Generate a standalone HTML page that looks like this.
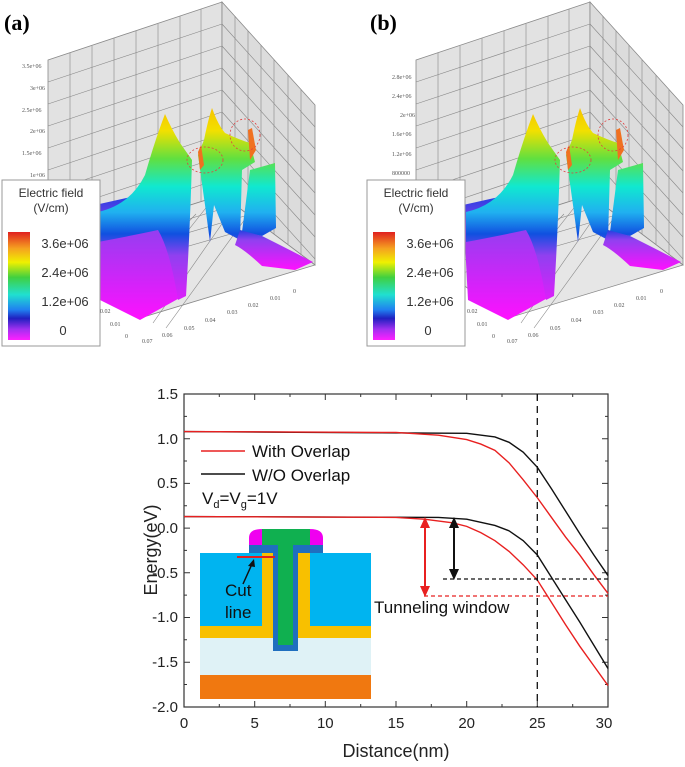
<!DOCTYPE html>
<html><head><meta charset="utf-8"><style>
body{margin:0;background:#fff;width:685px;height:767px;overflow:hidden}
svg{position:absolute;left:0;top:0}
.s{font-family:"Liberation Sans",sans-serif}
.r{font-family:"Liberation Serif",serif}
</style></head><body>
<svg width="685" height="767" viewBox="0 0 685 767">
<defs>
<linearGradient id="sg" gradientUnits="userSpaceOnUse" x1="0" y1="105" x2="0" y2="320">
<stop offset="0" stop-color="#f7c000"/><stop offset="0.12" stop-color="#f2e000"/><stop offset="0.25" stop-color="#60e040"/>
<stop offset="0.38" stop-color="#10e8d0"/><stop offset="0.5" stop-color="#20b0f0"/><stop offset="0.6" stop-color="#1050e0"/>
<stop offset="0.7" stop-color="#9040f0"/><stop offset="1" stop-color="#ff10ff"/></linearGradient>
<linearGradient id="mg" x1="0" y1="0" x2="0" y2="1"><stop offset="0" stop-color="#2040e0"/><stop offset="0.25" stop-color="#9040f0"/><stop offset="1" stop-color="#ff10ff"/></linearGradient>
<linearGradient id="cb" x1="0" y1="0" x2="0" y2="1">
<stop offset="0" stop-color="#e02020"/><stop offset="0.15" stop-color="#f5a020"/><stop offset="0.28" stop-color="#f0f000"/><stop offset="0.42" stop-color="#40d040"/>
<stop offset="0.58" stop-color="#20e0d0"/><stop offset="0.72" stop-color="#2080f0"/><stop offset="0.8" stop-color="#2020c0"/><stop offset="0.9" stop-color="#a030f0"/><stop offset="1" stop-color="#ff20ff"/></linearGradient>
<g id="p3d">
<polygon points="48,60 222,2 222,195 48,250" fill="#e2e2e2" stroke="#888" stroke-width="0.8"/>
<polygon points="222,2 315,105 315,265 222,195" fill="#dcdcdc" stroke="#888" stroke-width="0.8"/>
<polygon points="222,195 315,265 140,318 48,250" fill="#e6e6e6" stroke="#888" stroke-width="0.8"/>
<g stroke="#888" stroke-width="0.6" fill="none">
<path d="M70,53V243M92,46V236M114,38V229M136,31V222M158,24V215M180,16V208M201,9V201"/>
<path d="M48,82L222,24M48,104L222,46M48,126L222,68M48,148L222,90M48,170L222,112M48,192L222,134M48,214L222,156M48,236L222,178"/>
<path d="M235,16V205M248,31V215M261,45V225M274,60V234M288,75V244M301,90V255"/>
<path d="M222,24L315,127M222,46L315,149M222,68L315,171M222,90L315,193M222,112L315,215M222,134L315,237M222,156L315,259"/>
<path d="M209,204L126,309M196,214L113,300M183,224L100,291M235,205L153,323M248,215L166,328"/>
<path d="M60,258L235,205M72,267L248,215M84,276L262,225"/>
</g>
<path d="M95,205 L140,195 L160,228 Q175,260 185,295 L140,320 L100,300Z" fill="url(#mg)"/>
<path d="M98,212 Q130,205 145,175 Q155,140 165,114 Q172,130 180,143 L192,160 Q190,230 186,296 L178,300 Q170,250 158,230 Q130,236 98,242Z" fill="url(#sg)"/>
<path d="M198,155 L204,140 Q208,120 212,108 Q218,125 225,133 Q240,140 250,143 L255,162 L242,170 L240,240 L225,232 L214,205 L210,242 L205,205Z" fill="url(#sg)"/>
<path d="M248,130 L252,128 L256,150 L250,160Z" fill="#f07020"/>
<path d="M198,152 L201,145 L204,165 L200,170Z" fill="#f07020"/>
<path d="M250,170 L275,163 L276,228 L262,236 L242,232Z" fill="url(#sg)"/>
<path d="M240,230 L262,236 Q290,250 313,262 L295,270 L262,266 Q245,250 235,245Z" fill="url(#mg)"/>
<ellipse cx="205" cy="160" rx="18" ry="13" fill="none" stroke="#e04040" stroke-dasharray="2,2" stroke-width="0.8"/>
<ellipse cx="245" cy="135" rx="15" ry="16" fill="none" stroke="#e04040" stroke-dasharray="2,2" stroke-width="0.8"/>
</g>
<g id="leg">
<rect x="2" y="180" width="98" height="166" fill="#fff" stroke="#999"/>
<rect x="8" y="232" width="22" height="108" fill="url(#cb)"/>
</g>
</defs>
<use href="#p3d"/>
<use href="#leg"/>
<g transform="translate(368,0)"><use href="#p3d"/></g>
<g transform="translate(365,0)"><use href="#leg"/></g>
<g font-size="6" fill="#555" class="r">
<text x="22" y="68">3.5e+06</text><text x="30" y="90">3e+06</text><text x="22" y="112">2.5e+06</text><text x="30" y="133">2e+06</text><text x="22" y="155">1.5e+06</text><text x="30" y="177">1e+06</text>
<text x="392" y="79">2.8e+06</text><text x="392" y="98">2.4e+06</text><text x="400" y="117">2e+06</text><text x="392" y="136">1.6e+06</text><text x="392" y="156">1.2e+06</text><text x="392" y="175">800000</text>
<text x="100" y="313">0.02</text><text x="110" y="326">0.01</text><text x="125" y="338">0</text><text x="142" y="343">0.07</text><text x="162" y="337">0.06</text><text x="184" y="330">0.05</text><text x="205" y="322">0.04</text><text x="227" y="314">0.03</text><text x="248" y="307">0.02</text><text x="270" y="300">0.01</text><text x="293" y="293">0</text>
<text x="467" y="313">0.02</text><text x="477" y="326">0.01</text><text x="492" y="338">0</text><text x="507" y="343">0.07</text><text x="528" y="337">0.06</text><text x="550" y="330">0.05</text><text x="571" y="322">0.04</text><text x="593" y="314">0.03</text><text x="614" y="307">0.02</text><text x="636" y="300">0.01</text><text x="660" y="293">0</text>
</g>
<g font-size="12" fill="#333" text-anchor="middle" class="s">
<text x="51" y="197">Electric field</text><text x="51" y="212">(V/cm)</text>
<text x="65" y="248" font-size="13">3.6e+06</text><text x="65" y="277" font-size="13">2.4e+06</text><text x="65" y="306" font-size="13">1.2e+06</text><text x="63" y="335" font-size="13">0</text>
<text x="416" y="197">Electric field</text><text x="416" y="212">(V/cm)</text>
<text x="430" y="248" font-size="13">3.6e+06</text><text x="430" y="277" font-size="13">2.4e+06</text><text x="430" y="306" font-size="13">1.2e+06</text><text x="428" y="335" font-size="13">0</text>
</g>
<text x="4" y="30" class="r" font-weight="bold" font-size="22">(a)</text>
<text x="370" y="30" class="r" font-weight="bold" font-size="22">(b)</text>

<!-- bottom chart -->
<rect x="184" y="394" width="424" height="313" fill="none" stroke="#333" stroke-width="1.2"/>
<g stroke="#333" stroke-width="1">
<path d="M254.7,707v-6M325.3,707v-6M396,707v-6M466.7,707v-6M537.3,707v-6M254.7,394v6M325.3,394v6M396,394v6M466.7,394v6M537.3,394v6"/>
<path d="M219.3,707v-3M290,707v-3M360.7,707v-3M431.3,707v-3M502,707v-3M572.7,707v-3M219.3,394v3M290,394v3M360.7,394v3M431.3,394v3M502,394v3M572.7,394v3"/>
<path d="M184,438.7h6M184,483.4h6M184,528.1h6M184,572.8h6M184,617.5h6M184,662.2h6M608,438.7h-6M608,483.4h-6M608,528.1h-6M608,572.8h-6M608,617.5h-6M608,662.2h-6"/>
<path d="M184,416.4h3M184,461h3M184,505.7h3M184,550.4h3M184,595.1h3M184,639.8h3M184,684.5h3M608,416.4h-3M608,461h-3M608,505.7h-3M608,550.4h-3M608,595.1h-3M608,639.8h-3M608,684.5h-3"/>
</g>
<g font-size="15" fill="#222" text-anchor="end" class="s">
<text x="178" y="399">1.5</text><text x="178" y="444">1.0</text><text x="178" y="488">0.5</text><text x="178" y="533">0.0</text><text x="178" y="578">-0.5</text><text x="178" y="622">-1.0</text><text x="178" y="667">-1.5</text><text x="178" y="712">-2.0</text>
</g>
<g font-size="15" fill="#222" text-anchor="middle" class="s">
<text x="184" y="728">0</text><text x="254.7" y="728">5</text><text x="325.3" y="728">10</text><text x="396" y="728">15</text><text x="466.7" y="728">20</text><text x="537.3" y="728">25</text><text x="604" y="728">30</text>
<text x="396" y="757" font-size="18">Distance(nm)</text>
<text transform="translate(157,550) rotate(-90)" font-size="18">Energy(eV)</text>
</g>
<!-- inset -->
<rect x="200" y="553" width="171" height="73" fill="#00b4f0"/>
<rect x="200" y="626" width="171" height="12" fill="#f8c000"/>
<rect x="200" y="638" width="171" height="37" fill="#dff2f6"/>
<rect x="200" y="675" width="171" height="24" fill="#f07810"/>
<rect x="262" y="553" width="48" height="73" fill="#f8c000"/>
<path d="M249,548 V538 Q249,529 262,529 H310 Q323,529 323,538 V548Z" fill="#f000f0"/>
<rect x="249" y="545" width="74" height="8" fill="#1f6fbf"/>
<rect x="262" y="529" width="48" height="16" fill="#10b050"/>
<rect x="273" y="545" width="25" height="106" fill="#1f6fbf"/>
<rect x="278" y="529" width="15" height="116" fill="#10b050"/>
<line x1="237" y1="557" x2="275" y2="557" stroke="#e02020" stroke-width="2"/>
<line x1="243" y1="584" x2="252" y2="564" stroke="#111" stroke-width="1.5"/>
<polygon points="254,559 248,566 255,567" fill="#111"/>
<g class="s" font-size="17" fill="#111">
<text x="225" y="596">Cut</text>
<text x="225" y="618">line</text>
</g>
<!-- curves -->
<g transform="translate(184,394) scale(14.1333,-89.43) translate(0,-1.5)" fill="none">
<polyline vector-effect="non-scaling-stroke" stroke="#111" stroke-width="1.4" points="0,1.08 20,1.06 22,1.02 23,0.96 24,0.85 25,0.68 26,0.44 27,0.19 28,-0.06 29,-0.30 30,-0.53"/>
<polyline vector-effect="non-scaling-stroke" stroke="#e82020" stroke-width="1.4" points="0,1.08 15,1.07 18,1.04 20,0.99 21,0.94 22,0.87 23,0.73 24,0.54 25,0.34 26,0.12 27,-0.10 28,-0.30 29,-0.52 30,-0.73"/>
<polyline vector-effect="non-scaling-stroke" stroke="#111" stroke-width="1.4" points="0,0.13 18,0.12 20,0.10 22,0.03 23,-0.03 24,-0.14 25,-0.30 26,-0.55 27,-0.80 28,-1.05 29,-1.31 30,-1.57"/>
<polyline vector-effect="non-scaling-stroke" stroke="#e82020" stroke-width="1.4" points="0,0.13 15,0.12 17,0.10 19,0.06 20,0.02 21,-0.05 22,-0.14 23,-0.26 24,-0.41 25,-0.58 26,-0.83 27,-1.08 28,-1.32 29,-1.54 30,-1.76"/>
</g>
<line x1="537.3" y1="394" x2="537.3" y2="707" stroke="#111" stroke-width="1.3" stroke-dasharray="7,5"/>
<line x1="424" y1="596" x2="608" y2="596" stroke="#e82020" stroke-width="1.2" stroke-dasharray="4,3"/>
<line x1="443" y1="579" x2="608" y2="579" stroke="#111" stroke-width="1.2" stroke-dasharray="4,3"/>
<line x1="425" y1="526" x2="425" y2="590" stroke="#e82020" stroke-width="2"/>
<polygon points="425,517 420,528 430,528" fill="#e82020"/><polygon points="425,597 420,586 430,586" fill="#e82020"/>
<line x1="454" y1="526" x2="454" y2="573" stroke="#111" stroke-width="2"/>
<polygon points="454,517 449,528 459,528" fill="#111"/><polygon points="454,580 449,569 459,569" fill="#111"/>
<g class="s" font-size="17" fill="#111">
<text x="374" y="613">Tunneling window</text>
<text x="252" y="457">With Overlap</text>
<text x="252" y="481">W/O Overlap</text>
<text x="202" y="504">V<tspan font-size="11" dy="4">d</tspan><tspan dy="-4">=V</tspan><tspan font-size="11" dy="4">g</tspan><tspan dy="-4">=1V</tspan></text>
</g>
<line x1="201" y1="451" x2="245" y2="451" stroke="#e82020" stroke-width="1.5"/>
<line x1="201" y1="474" x2="245" y2="474" stroke="#111" stroke-width="1.5"/>
</svg>
</body></html>
